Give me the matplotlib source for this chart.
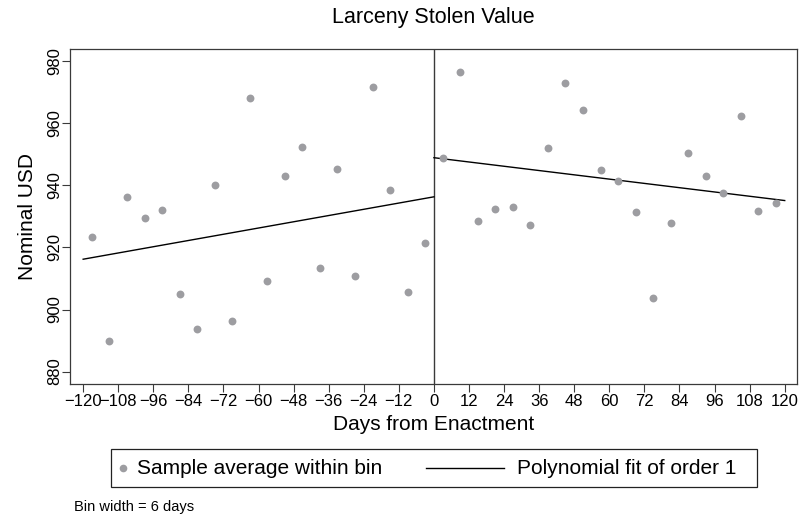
import numpy as np
import matplotlib
matplotlib.use("Agg")
import matplotlib.pyplot as plt
from matplotlib.patches import Rectangle
from matplotlib.lines import Line2D

plt.rcParams['font.family'] = ['Liberation Sans', 'DejaVu Sans']

# bin averages (bin width = 6 days)
left_x = [-117, -111, -105, -99, -93, -87, -81, -75, -69, -63,
          -57, -51, -45, -39, -33, -27, -21, -15, -9, -3]
left_y = [923.3, 890.0, 936.1, 929.4, 931.9, 904.9, 893.7, 940.0, 896.4, 968.0,
          909.1, 942.9, 952.2, 913.4, 945.4, 910.7, 971.6, 938.4, 905.7, 921.3]
right_x = [3, 9, 15, 21, 27, 33, 39, 45, 51, 57,
           63, 69, 75, 81, 87, 93, 99, 105, 111, 117]
right_y = [948.7, 976.5, 928.5, 932.3, 933.0, 927.2, 952.0, 972.9, 964.2, 945.0,
           941.5, 931.4, 903.6, 928.0, 950.4, 942.9, 937.4, 962.4, 931.8, 934.4]

# linear fits on each side of the cutoff
fit_left_x = [-120, 0]
fit_left_y = [916.2, 936.3]
fit_right_x = [0, 120]
fit_right_y = [948.9, 935.1]

xticks = list(range(-120, 121, 12))
yticks = [880, 900, 920, 940, 960, 980]

dot_color = '#9d9da1'
frame_color = '#3a3a3a'

fig = plt.figure(figsize=(8, 5.2), dpi=100)
ax = fig.add_axes([0.0875, 0.2615, 0.90875, 0.6442])

ax.scatter(left_x, left_y, s=32, color=dot_color, linewidths=0, zorder=3)
ax.scatter(right_x, right_y, s=32, color=dot_color, linewidths=0, zorder=3)
ax.plot(fit_left_x, fit_left_y, color='black', lw=1.0, zorder=2)
ax.plot(fit_right_x, fit_right_y, color='black', lw=1.0, zorder=2)
ax.axvline(0, color=frame_color, lw=1.0, zorder=1)

ax.set_xlim(-124.5, 124.2)
ax.set_ylim(876.0, 983.9)
ax.set_xticks(xticks)
ax.set_yticks(yticks)
for sp in ax.spines.values():
    sp.set_color(frame_color)
    sp.set_linewidth(0.9)
ax.tick_params(axis='both', direction='out', length=5.5, width=0.8,
               color=frame_color, labelsize=12)
ax.tick_params(axis='x', pad=2)
ax.tick_params(axis='y', pad=0)
plt.setp(ax.get_yticklabels(), rotation=90, va='center')

ax.set_xlabel('Days from Enactment', fontsize=15)
ax.xaxis.set_label_coords(0.5, -0.092)
ax.set_ylabel('Nominal USD', fontsize=15)
ax.yaxis.set_label_coords(-0.046, 0.5)

fig.text(0.5419, 1 - 23 / 520, 'Larceny Stolen Value', fontsize=15.5,
         ha='center', va='baseline')

# legend box drawn by hand (Stata style, two entries in one row)
W, H = 800.0, 520.0
def fx(px):
    return px / W
def fy(py):
    return 1 - py / H

fig.add_artist(Rectangle((fx(111), fy(487)), fx(757) - fx(111), fy(449) - fy(487),
                         transform=fig.transFigure, facecolor='white',
                         edgecolor='#222222', lw=0.9))
fig.add_artist(Line2D([fx(123)], [fy(468)], marker='o', markersize=5.5,
                      color=dot_color, markeredgewidth=0, transform=fig.transFigure))
fig.text(fx(137), fy(468), 'Sample average within bin', fontsize=15,
         ha='left', va='center')
fig.add_artist(Line2D([fx(426), fx(504)], [fy(468), fy(468)], color='black',
                      lw=1.0, transform=fig.transFigure))
fig.text(fx(517), fy(468), 'Polynomial fit of order 1', fontsize=15,
         ha='left', va='center')

fig.text(fx(74), fy(507), 'Bin width = 6 days', fontsize=10.5,
         ha='left', va='center')

fig.savefig('out.png', dpi=100)
